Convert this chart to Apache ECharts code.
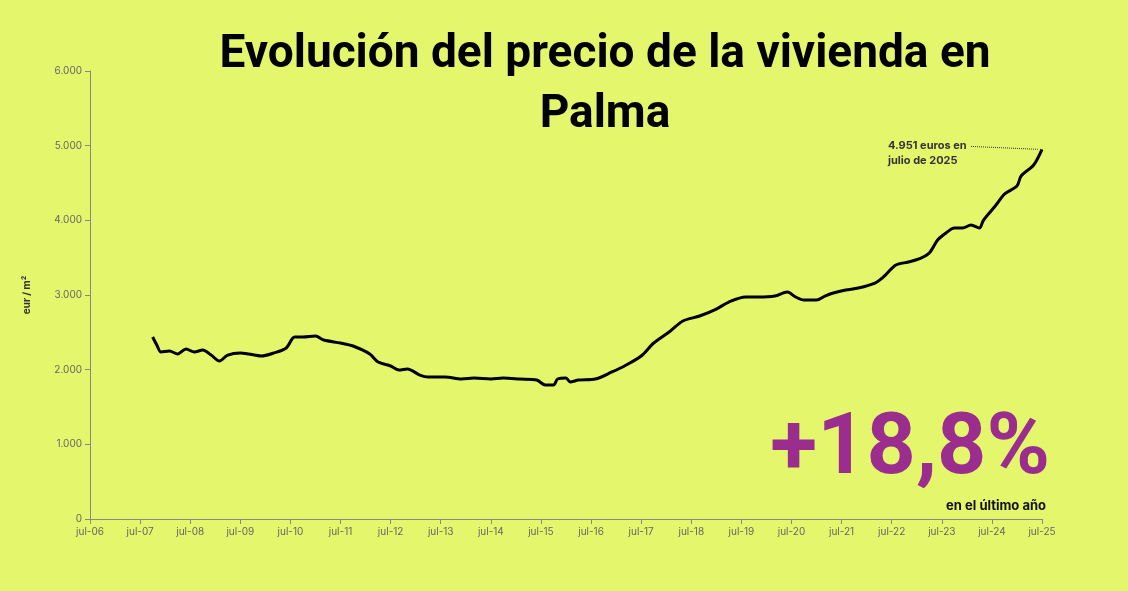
<!DOCTYPE html><html><head><meta charset="utf-8">
<script src="https://cdn.jsdelivr.net/npm/echarts@6/dist/echarts.min.js"></script>
<style>html,body{margin:0;background:#e3f66c}#c{width:1128px;height:591px}</style></head><body><div id="c"></div>
<script>
const tickLabels=['jul-06','jul-07','jul-08','jul-09','jul-10','jul-11','jul-12','jul-13','jul-14','jul-15','jul-16','jul-17','jul-18','jul-19','jul-20','jul-21','jul-22','jul-23','jul-24','jul-25'];
const months=[15,16,17,19,21,23,25,27,29,31,33,36,38,41,44,47,49,51,54,56,60,63,67,69,72,74,76,79,81,85,89,92,96,99,103,107,109,111,112,114,115,117,121,125,128,132,135,139,142,146,150,153,157,160,164,167,169,171,174,176,178,181,184,188,190,193,196,199,201,203,205,207,209,211,213,214,217,219,222,223,226,228];
const prices=[2437,2330,2236,2250,2210,2277,2236,2263,2196,2116,2196,2223,2210,2183,2223,2290,2437,2437,2450,2397,2357,2317,2210,2102,2049,1995,2009,1928,1902,1902,1875,1888,1875,1888,1875,1861,1795,1795,1875,1888,1835,1861,1875,1969,2049,2183,2357,2518,2652,2719,2812,2906,2973,2973,2986,3040,2973,2933,2933,2986,3027,3067,3094,3160,3241,3402,3442,3495,3562,3736,3830,3897,3897,3937,3897,4004,4205,4352,4460,4594,4741,4951];
const ch=echarts.init(document.getElementById('c'));
const F='Inter, Roboto, sans-serif';
ch.setOption({
backgroundColor:'#e3f66c',
grid:{left:90,right:86,top:71,bottom:72},
title:{text:'Evolución del precio de la vivienda en\nPalma',left:600,textAlign:'center',top:20,textStyle:{fontFamily:'Roboto, sans-serif',fontSize:46,fontWeight:'bold',color:'#000',lineHeight:60}},
xAxis:{type:'value',min:0,max:228,interval:12,splitLine:{show:false},
 axisLine:{lineStyle:{color:'#888'}},axisTick:{show:true,lineStyle:{color:'#888'}},
 axisLabel:{color:'#666',fontSize:10,fontFamily:F,formatter:v=>tickLabels[Math.round(v/12)]}},
yAxis:{type:'value',min:0,max:6000,interval:1000,name:'eur / m²',nameLocation:'middle',nameGap:58,nameRotate:90,
 nameTextStyle:{color:'#333',fontSize:10,fontWeight:'bold',fontFamily:F},
 splitLine:{show:false},axisLine:{show:true,lineStyle:{color:'#888'}},axisTick:{show:true,lineStyle:{color:'#888'}},
 axisLabel:{color:'#666',fontSize:10,fontFamily:F,formatter:v=>v.toLocaleString('de-DE')}},
series:[{type:'line',data:months.map((m,i)=>[m,prices[i]]),showSymbol:false,smooth:0.3,lineStyle:{color:'#000',width:3},
 markLine:{silent:true,symbol:'none',label:{show:false},lineStyle:{color:'#333',type:'dotted',width:1},
  data:[[{coord:[211,4990]},{coord:[227,4951]}]]}}],
graphic:[
 {type:'text',left:888,top:138,style:{text:'4.951 euros en\njulio de 2025',align:'center',x:40,font:'bold 11px '+F,fill:'#333',lineHeight:15}},
 {type:'text',right:78,top:408,style:{text:'+18,8%',font:'bold 86px Roboto, sans-serif',fill:'#9b2d8e'}},
 {type:'text',right:82,top:500,style:{text:'en el último año',font:'bold 13px '+F,fill:'#111'}}
]});
</script></body></html>
